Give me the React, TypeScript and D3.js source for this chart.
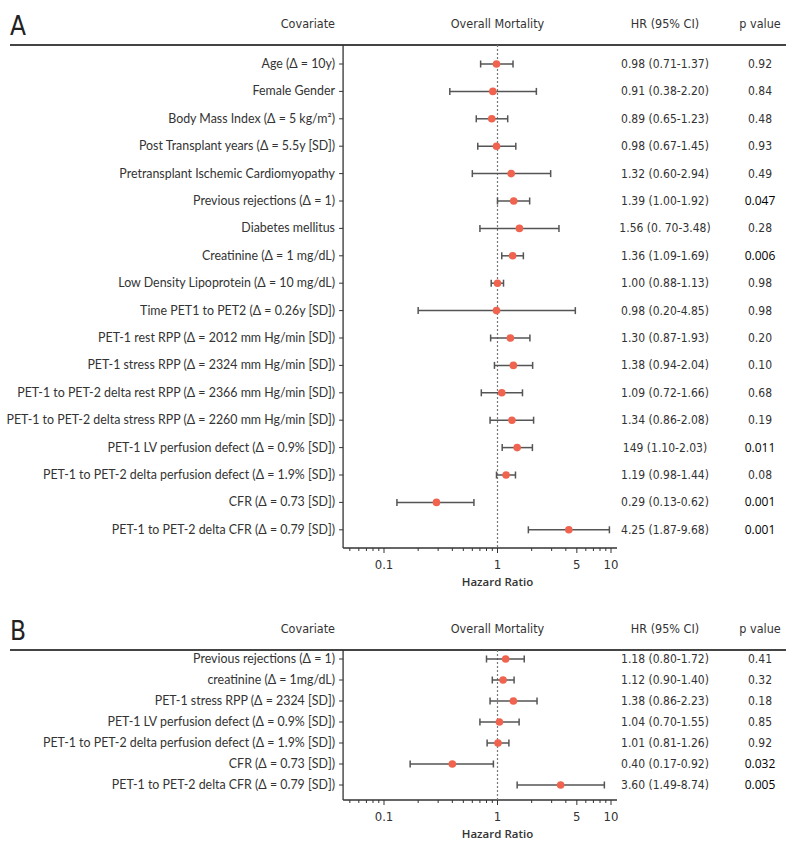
import React from 'react';
import * as d3 from 'd3';

// ---------- Panel A data ----------
const covariatesA = [
  'Age (Δ = 10y)',
  'Female Gender',
  'Body Mass Index (Δ = 5 kg/m²)',
  'Post Transplant years (Δ = 5.5y [SD])',
  'Pretransplant Ischemic Cardiomyopathy',
  'Previous rejections (Δ = 1)',
  'Diabetes mellitus',
  'Creatinine (Δ = 1 mg/dL)',
  'Low Density Lipoprotein (Δ = 10 mg/dL)',
  'Time PET1 to PET2 (Δ = 0.26y [SD])',
  'PET-1 rest RPP (Δ = 2012 mm Hg/min [SD])',
  'PET-1 stress RPP (Δ = 2324 mm Hg/min [SD])',
  'PET-1 to PET-2 delta rest RPP (Δ = 2366 mm Hg/min [SD])',
  'PET-1 to PET-2 delta stress RPP (Δ = 2260 mm Hg/min [SD])',
  'PET-1 LV perfusion defect (Δ = 0.9% [SD])',
  'PET-1 to PET-2 delta perfusion defect (Δ = 1.9% [SD])',
  'CFR (Δ = 0.73 [SD])',
  'PET-1 to PET-2 delta CFR (Δ = 0.79 [SD])',
];
const hrA = [0.98, 0.91, 0.89, 0.98, 1.32, 1.39, 1.56, 1.36, 1.0, 0.98, 1.3, 1.38, 1.09, 1.34, 1.49, 1.19, 0.29, 4.25];
const lowA = [0.71, 0.38, 0.65, 0.67, 0.6, 1.0, 0.7, 1.09, 0.88, 0.2, 0.87, 0.94, 0.72, 0.86, 1.1, 0.98, 0.13, 1.87];
const highA = [1.37, 2.2, 1.23, 1.45, 2.94, 1.92, 3.48, 1.69, 1.13, 4.85, 1.93, 2.04, 1.66, 2.08, 2.03, 1.44, 0.62, 9.68];
const hrTextA = [
  '0.98 (0.71-1.37)', '0.91 (0.38-2.20)', '0.89 (0.65-1.23)', '0.98 (0.67-1.45)', '1.32 (0.60-2.94)',
  '1.39 (1.00-1.92)', '1.56 (0. 70-3.48)', '1.36 (1.09-1.69)', '1.00 (0.88-1.13)', '0.98 (0.20-4.85)',
  '1.30 (0.87-1.93)', '1.38 (0.94-2.04)', '1.09 (0.72-1.66)', '1.34 (0.86-2.08)', '149 (1.10-2.03)',
  '1.19 (0.98-1.44)', '0.29 (0.13-0.62)', '4.25 (1.87-9.68)',
];
const pTextA = ['0.92', '0.84', '0.48', '0.93', '0.49', '0.047', '0.28', '0.006', '0.98', '0.98', '0.20', '0.10', '0.68', '0.19', '0.011', '0.08', '0.001', '0.001'];
const sigA = [false, false, false, false, false, true, false, true, false, false, false, false, false, false, true, false, true, true];

// ---------- Panel B data ----------
const covariatesB = [
  'Previous rejections (Δ = 1)',
  'creatinine (Δ = 1mg/dL)',
  'PET-1 stress RPP (Δ = 2324 [SD])',
  'PET-1 LV perfusion defect (Δ = 0.9% [SD])',
  'PET-1 to PET-2 delta perfusion defect (Δ = 1.9% [SD])',
  'CFR (Δ = 0.73 [SD])',
  'PET-1 to PET-2 delta CFR (Δ = 0.79 [SD])',
];
const hrB = [1.18, 1.12, 1.38, 1.04, 1.01, 0.4, 3.6];
const lowB = [0.8, 0.9, 0.86, 0.7, 0.81, 0.17, 1.49];
const highB = [1.72, 1.4, 2.23, 1.55, 1.26, 0.92, 8.74];
const hrTextB = ['1.18 (0.80-1.72)', '1.12 (0.90-1.40)', '1.38 (0.86-2.23)', '1.04 (0.70-1.55)', '1.01 (0.81-1.26)', '0.40 (0.17-0.92)', '3.60 (1.49-8.74)'];
const pTextB = ['0.41', '0.32', '0.18', '0.85', '0.92', '0.032', '0.005'];
const sigB = [false, false, false, false, false, true, true];

// ---------- Axis ----------
const majorTicks = [0.1, 1, 5, 10];
const minorTicks = [0.05, 0.06, 0.07, 0.08, 0.09, 0.2, 0.3, 0.4, 0.5, 0.6, 0.7, 0.8, 0.9, 2, 3, 4, 6, 7, 8, 9];
const axisDomain = [0.0436, 11.3];
const headers = ['Covariate', 'Overall Mortality', 'HR (95% CI)', 'p value'];

const LABEL_FONT = "Lato, 'Open Sans', sans-serif";
const COND_FONT = "'Liberation Sans Narrow', 'DejaVu Sans Condensed', sans-serif";
const SIG_FONT = "'Open Sans', sans-serif";
const TEXT = '#333';
const LINE = '#555';
const DOT = '#f0634f';

type PanelProps = {
  letter: string;
  top: number;
  rowStart: number;
  rowStep: number;
  axisY: number;
  labels: string[];
  hr: number[];
  lo: number[];
  hi: number[];
  hrText: string[];
  pText: string[];
  sig: boolean[];
};

const x = d3.scaleLog().domain([0.1, 10]).range([384, 611]);
const X_LEFT = x(axisDomain[0]);
const X_RIGHT = x(axisDomain[1]);
const LABEL_X = 335;
const HR_X = 665;
const P_X = 760;

function Panel(p: PanelProps) {
  const y = (i: number) => p.rowStart + i * p.rowStep;
  const lineY = p.top + 17;
  return (
    <g>
      <text x={10} y={p.top + 7} fontFamily={COND_FONT} fontSize={26} fill="#222">{p.letter}</text>
      {headers.map((h, i) => {
        const hx = [LABEL_X, x(1), HR_X, P_X][i];
        return (
          <text key={h} x={hx} y={p.top} textAnchor={i === 0 ? 'end' : 'middle'} fontFamily={COND_FONT} fontSize={12.5} fill={TEXT}>{h}</text>
        );
      })}
      <line x1={10} x2={786} y1={lineY} y2={lineY} stroke="#444" strokeWidth={2} />
      <line x1={X_LEFT} x2={X_LEFT} y1={lineY} y2={p.axisY} stroke="#333" strokeWidth={1.3} />
      <line x1={X_LEFT} x2={X_RIGHT} y1={p.axisY} y2={p.axisY} stroke="#333" strokeWidth={1.3} />
      <line x1={x(1)} x2={x(1)} y1={lineY} y2={p.axisY} stroke="#777" strokeWidth={1.2} strokeDasharray="2,2" />
      {minorTicks.map((t) => (
        <line key={'m' + t} x1={x(t)} x2={x(t)} y1={p.axisY} y2={p.axisY + 3} stroke="#333" strokeWidth={1} />
      ))}
      {majorTicks.map((t) => (
        <g key={'M' + t}>
          <line x1={x(t)} x2={x(t)} y1={p.axisY} y2={p.axisY + 5} stroke="#333" strokeWidth={1} />
          <text x={x(t)} y={p.axisY + 21} textAnchor="middle" fontFamily={COND_FONT} fontSize={13} fill={TEXT}>{String(t)}</text>
        </g>
      ))}
      <text x={x(1)} y={p.axisY + 38} textAnchor="middle" fontFamily={SIG_FONT} fontSize={11.5} fontWeight={600} fill={TEXT}>Hazard Ratio</text>
      {p.labels.map((lab, i) => (
        <g key={lab}>
          <line x1={X_LEFT - 4} x2={X_LEFT} y1={y(i)} y2={y(i)} stroke="#333" strokeWidth={1} />
          <text x={LABEL_X} y={y(i) + 4} textAnchor="end" fontFamily={LABEL_FONT} fontSize={12.4} fill={TEXT}>{lab}</text>
          <line x1={x(p.lo[i])} x2={x(p.hi[i])} y1={y(i)} y2={y(i)} stroke={LINE} strokeWidth={1.5} />
          <line x1={x(p.lo[i])} x2={x(p.lo[i])} y1={y(i) - 3.5} y2={y(i) + 3.5} stroke={LINE} strokeWidth={1.5} />
          <line x1={x(p.hi[i])} x2={x(p.hi[i])} y1={y(i) - 3.5} y2={y(i) + 3.5} stroke={LINE} strokeWidth={1.5} />
          <circle cx={x(p.hr[i])} cy={y(i)} r={3.8} fill={DOT} />
          <text x={HR_X} y={y(i) + 4} textAnchor="middle" fontFamily={COND_FONT} fontSize={12} fill={TEXT}>{p.hrText[i]}</text>
          <text x={P_X} y={y(i) + 4} textAnchor="middle" fontFamily={p.sig[i] ? SIG_FONT : COND_FONT} fontSize={12} fontWeight={400} fill={p.sig[i] ? '#000' : TEXT}>{p.pText[i]}</text>
        </g>
      ))}
    </g>
  );
}

export default function App() {
  return (
    <svg width={800} height={848} style={{ position: 'absolute', left: 0, top: 0, background: '#fff' }}>
      <rect width={800} height={848} fill="#fff" />
      <Panel letter="A" top={28} rowStart={64} rowStep={27.4} axisY={548}
        labels={covariatesA} hr={hrA} lo={lowA} hi={highA} hrText={hrTextA} pText={pTextA} sig={sigA} />
      <Panel letter="B" top={633} rowStart={659} rowStep={21} axisY={800}
        labels={covariatesB} hr={hrB} lo={lowB} hi={highB} hrText={hrTextB} pText={pTextB} sig={sigB} />
    </svg>
  );
}
